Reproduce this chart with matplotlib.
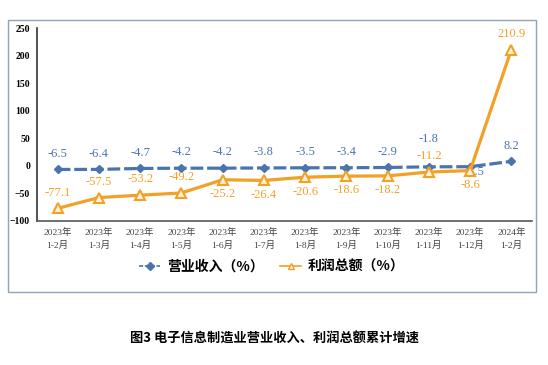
import matplotlib.pyplot as plt
from matplotlib.patches import Rectangle
from matplotlib.lines import Line2D

plt.rcParams['font.family'] = ['Liberation Serif', 'Noto Sans CJK SC']

periods = ['2023年\n1-2月', '2023年\n1-3月', '2023年\n1-4月', '2023年\n1-5月',
           '2023年\n1-6月', '2023年\n1-7月', '2023年\n1-8月', '2023年\n1-9月',
           '2023年\n1-10月', '2023年\n1-11月', '2023年\n1-12月', '2024年\n1-2月']
revenue = [-6.5, -6.4, -4.7, -4.2, -4.2, -3.8, -3.5, -3.4, -2.9, -1.8, -1.5, 8.2]
profit = [-77.1, -57.5, -53.2, -49.2, -25.2, -26.4, -20.6, -18.6, -18.2, -11.2, -8.6, 210.9]
# +1 label above the point, -1 below
profit_side = [1, 1, 1, 1, -1, -1, -1, -1, -1, 1, -1, 1]

blue = '#4A74AE'
orange = '#F2A126'

fig = plt.figure(figsize=(5.48, 3.65), dpi=100)
# outer frame
fig.patches.append(Rectangle((8 / 548, 1 - 292 / 365), 528 / 548, 272 / 365,
                             transform=fig.transFigure, fill=False,
                             edgecolor='#8EA3BC', linewidth=1.0))

ax = fig.add_axes([37 / 548, 1 - 221 / 365, 495 / 548, 193 / 365])
x = list(range(len(periods)))

ax.plot(x, revenue, color=blue, linewidth=2.3, linestyle=(0, (4, 1.2)),
        marker='D', markersize=4.5, markerfacecolor=blue, markeredgecolor=blue,
        zorder=3)
ax.plot(x, profit, color=orange, linewidth=2.3, marker='^', markersize=7,
        markerfacecolor='#FDF0D8', markeredgecolor=orange, markeredgewidth=1.5,
        zorder=4)

for i, v in enumerate(revenue):
    if i == 10:
        ax.annotate(f'{v:.1f}', (i, v), xytext=(3, -4), textcoords='offset points',
                    ha='center', va='center', fontsize=9, color=blue, zorder=2)
        continue
    dy = 16 if i == 9 else 7
    ax.annotate(f'{v:.1f}', (i, v), xytext=(0, dy), textcoords='offset points',
                ha='center', va='bottom', fontsize=9, color=blue)

for i, v in enumerate(profit):
    if profit_side[i] > 0:
        ax.annotate(f'{v:.1f}', (i, v), xytext=(0, 7), textcoords='offset points',
                    ha='center', va='bottom', fontsize=9, color=orange)
    else:
        ax.annotate(f'{v:.1f}', (i, v), xytext=(0, -6), textcoords='offset points',
                    ha='center', va='top', fontsize=9, color=orange)

ax.set_xlim(-0.5, 11.5)
ax.set_ylim(-100, 250)
ax.set_yticks([-100, -50, 0, 50, 100, 150, 200, 250])
ax.set_xticks(x)
ax.set_xticklabels(periods, fontsize=6.8, color='#444444', linespacing=1.5)
for lab in ax.get_yticklabels():
    lab.set_fontweight('bold')
    lab.set_fontsize(7)
ax.tick_params(axis='both', length=0, pad=5)
for s in ['top', 'right']:
    ax.spines[s].set_visible(False)
ax.spines['left'].set_color('#333333')
ax.spines['bottom'].set_color('#555555')
ax.spines['left'].set_linewidth(1.2)
ax.spines['bottom'].set_linewidth(1.2)

handles = [
    Line2D([], [], color=blue, linewidth=1.2, linestyle=(0, (2.5, 1)), marker='D',
           markersize=4, markerfacecolor=blue, markeredgecolor=blue),
    Line2D([], [], color=orange, linewidth=1.2, marker='^', markersize=5,
           markerfacecolor='#FDF0D8', markeredgecolor=orange, markeredgewidth=1),
]
fig.legend(handles, ['营业收入（%）', '利润总额（%）'], loc='center',
           bbox_to_anchor=(272 / 548, 1 - 267 / 365), ncol=2,
           frameon=False, handlelength=1.5, handletextpad=0.5, columnspacing=1.2,
           prop={'family': ['Noto Sans CJK SC'], 'weight': 'bold', 'size': 10})

fig.text(274 / 548, 1 - 338 / 365, '图3 电子信息制造业营业收入、利润总额累计增速',
         ha='center', va='center', fontsize=9.5, fontweight='bold',
         family=['Noto Sans CJK SC'])

fig.savefig('out.png', dpi=100)
